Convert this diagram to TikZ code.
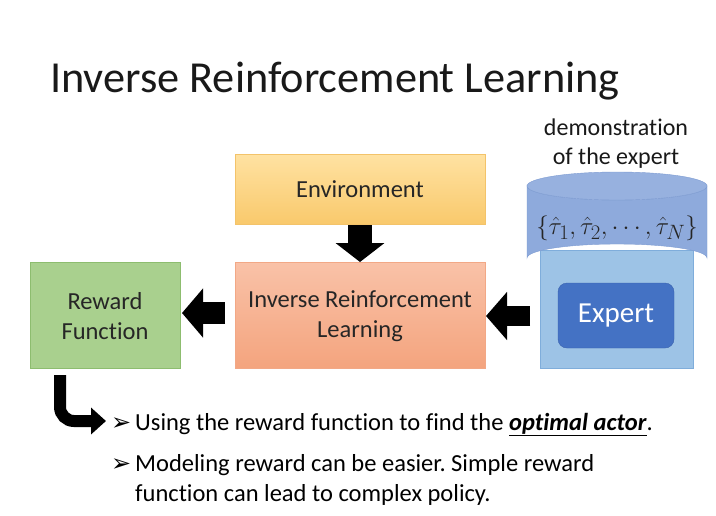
\documentclass[tikz,border=0pt]{standalone}
\usepackage{fontspec}
\setmainfont{Carlito}[Ligatures={NoCommon,NoRequired,NoContextual},Contextuals=NoAlternate]
\newfontfamily\symfont{DejaVu Sans}
\usetikzlibrary{arrows.meta}
\frenchspacing
\definecolor{envtop}{HTML}{FFE2A2}
\definecolor{envbot}{HTML}{F9C96C}
\definecolor{envline}{HTML}{F3C36A}
\definecolor{irltop}{HTML}{F9C2A8}
\definecolor{irlbot}{HTML}{F4A47E}
\definecolor{irlline}{HTML}{F2A886}
\definecolor{rwfill}{HTML}{A9D08E}
\definecolor{rwline}{HTML}{8DBD6F}
\definecolor{cylfill}{HTML}{8EAADC}
\definecolor{cylline}{HTML}{7E9CD2}
\definecolor{backfill}{HTML}{9DC3E6}
\definecolor{backline}{HTML}{7FADDB}
\definecolor{expfill}{HTML}{4472C4}
\definecolor{expline}{HTML}{3A62AE}
\tikzset{
  boxtext/.style={font=\fontsize{24.5}{30}\selectfont, text=black!85, align=center, inner sep=0pt},
  blockarrow/.style={line width=22pt, -{Triangle[length=21pt,width=48pt]}, black},
  bullettext/.style={font=\fontsize{24.5}{30}\selectfont, anchor=base west, inner sep=0pt},
  bulletmark/.style={font=\symfont\fontsize{24}{26}\selectfont, anchor=base west, inner sep=0pt},
}
\begin{document}
\begin{tikzpicture}[x=1pt,y=-1pt]
\useasboundingbox (0,0) rectangle (716,515);
\fill[white] (0,0) rectangle (716,515);

% title
\node[font=\fontsize{44.3}{50}\selectfont, anchor=base west, inner sep=0pt, text=black!90] (title) at (50,92) {Inverse Reinforcement Learning};

% boxes
\shade[top color=envtop, bottom color=envbot, draw=envline] (235,154) rectangle (485,224);
\node[boxtext] (env) at (360,189) {Environment};
\coordinate (envS) at (360,224);

\shade[top color=irltop, bottom color=irlbot, draw=irlline] (235,262) rectangle (485,368);
\node[boxtext] (irl) at (360,316) {Inverse Reinforcement\\Learning};
\coordinate (irlN) at (360,262);
\coordinate (irlW) at (235,313);
\coordinate (irlE) at (485,316);

\fill[rwfill, draw=rwline] (30,262) rectangle (180,368);
\node[boxtext] (rw) at (105,316) {Reward\\Function};
\coordinate (rwE) at (180,313);

% expert part
\fill[backfill, draw=backline] (540,250) rectangle (693,368);
\coordinate (backW) at (540,316);
\fill[expfill, draw=expline, rounded corners=9pt] (558,283) rectangle (674,348);
\node[font=\fontsize{29}{32}\selectfont, text=white, inner sep=0pt] (expert) at (616,316) {Expert};

% cylinder
\fill[cylfill, draw=cylline] (527,186) -- (527,258) arc[start angle=180, end angle=360, x radius=90, y radius=14] -- (707,186) arc[start angle=0, end angle=180, x radius=90, y radius=14] -- cycle;
\draw[cylline, fill=cylfill!92!white] (617,186) ellipse[x radius=90, y radius=14];
\node[font=\fontsize{28}{32}\selectfont, inner sep=0pt, text=black!85] (traj) at (617,228) {$\{\hat{\tau}_1,\hat{\tau}_2,\cdots,\hat{\tau}_N\}$};

\node[font=\fontsize{24}{29}\selectfont, align=center, inner sep=0pt, text=black!90] (demo) at (616,144) {demonstration\\of the expert};

% block arrows
\draw[blockarrow, line width=24pt, -{Triangle[length=19pt,width=48pt]}] (360,225) -- (irlN);
\draw[blockarrow, shorten <=10pt, shorten >=2pt] (irlW) -- (rwE);
\draw[blockarrow, line width=20pt, -{Triangle[length=21pt,width=47pt]}, shorten <=10pt, shorten >=1pt] (backW) -- (irlE);

% bent arrow
\coordinate (bendStart) at (60,375);
\coordinate (bendEnd) at (106,421);
\draw[line width=12pt, rounded corners=14pt, -{Triangle[length=15pt,width=26pt]}] (bendStart) -- (60,421) -- (bendEnd);

% bullets
\node[bulletmark] (b1) at (111,430) {➢};
\node[bullettext] (t1) at (135,430) {Using the reward function to find the \underline{\textbf{\textit{optimal actor}}}.};
\node[bulletmark] (b2) at (111,471) {➢};
\node[bullettext] (t2) at (135,471) {Modeling reward can be easier. Simple reward};
\node[bullettext] (t3) at (135,501) {function can lead to complex policy.};
\end{tikzpicture}
\end{document}
